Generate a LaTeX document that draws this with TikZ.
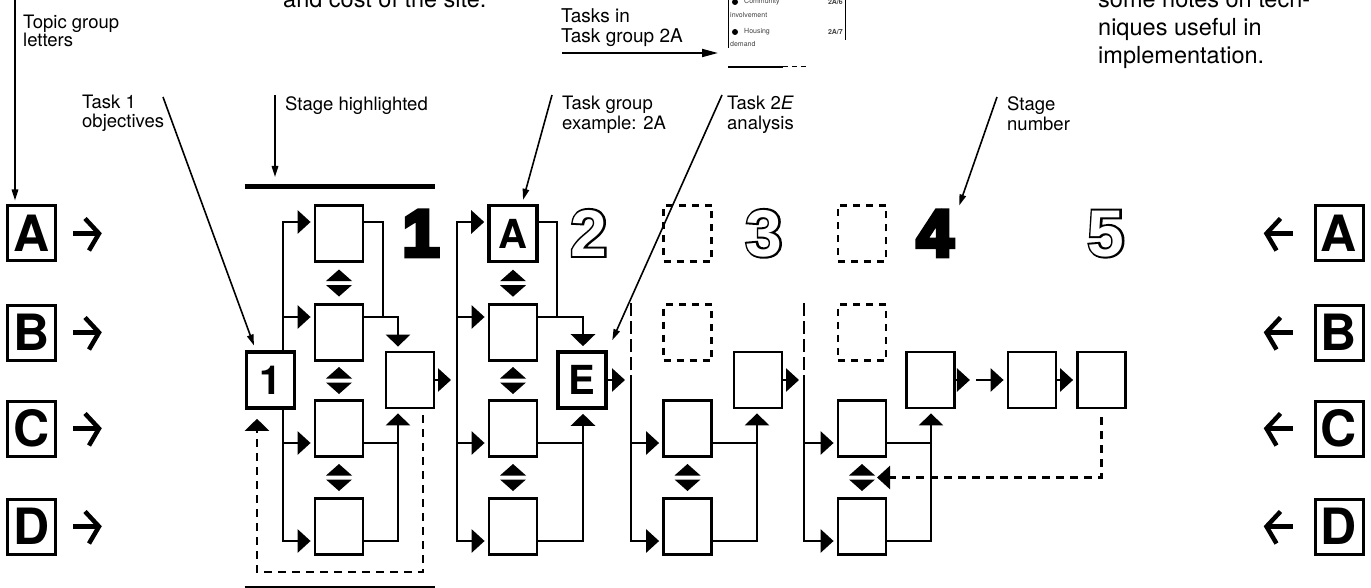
\documentclass[tikz,border=0pt]{standalone}
\usepackage{fontspec}
\setmainfont{TeX Gyre Heros}
\newfontface\digheavy{Liberation Sans Bold}[FakeBold=7]
\newfontface\dighalo{Liberation Sans Bold}[FakeBold=6]
\newfontface\digplain{Liberation Sans Bold}
\usetikzlibrary{arrows.meta,calc}
\newcommand\hollowdigit[1]{\leavevmode\rlap{\dighalo #1}\textcolor{white}{\digplain #1}}
\newcommand\labf[1]{\fontsize{18.5}{#1}\selectfont\lineskiplimit-30pt}
\tikzset{
  dbl/.pic={\fill (-13,-2) -- (13,-2) -- (0,-13.5) -- cycle;
            \fill (-13,2) -- (13,2) -- (0,13.5) -- cycle;}
}
\begin{document}
\begin{tikzpicture}[x=1pt,y=-1pt,
  box/.style={draw,line width=2.8pt,minimum width=48pt,minimum height=56pt,inner sep=0pt,fill=white},
  bbox/.style={box,line width=3.6pt,font=\bfseries\fontsize{40}{40}\selectfont},
  dbox/.style={box,dash pattern=on 7pt off 6pt},
  topic/.style={draw,line width=3pt,minimum width=48pt,minimum height=55pt,inner sep=0pt,font=\bfseries\fontsize{50}{50}\selectfont},
  ln/.style={line width=2.8pt},
  tarr/.style={line width=4.5pt,line cap=butt,line join=miter},
  arr/.style={-{Triangle[width=23pt,length=13pt]},shorten >=3pt},
  varr/.style={-{Triangle[width=24pt,length=12pt]},shorten >=4pt},
  dsh/.style={line width=2.6pt,dash pattern=on 8pt off 6pt},
  dbus/.style={line width=2.8pt,dash pattern=on 13pt off 5pt},
  lab/.style={inner sep=0pt,anchor=north west,align=left,font=\labf{20}},
  ptr/.style={line width=1.6pt,-{Triangle[width=6.5pt,length=11pt]}},
  big/.style={inner sep=0pt,anchor=base,font=\fontsize{66}{66}\selectfont},
  doc/.style={inner sep=0pt,text=black!75,font=\fontsize{7}{8}\selectfont}
]
\fill[white] (0,0) rectangle (1371,588);
\useasboundingbox (0,0) rectangle (1371,588);

% row levels
\coordinate (yA) at (0,222);
\coordinate (yB) at (0,317);
\coordinate (yC) at (0,443);
\coordinate (yD) at (0,541);
\coordinate (yT) at (0,303);
\coordinate (yL) at (0,572);
\coordinate (yBar) at (0,589);

% topic group boxes with arrows
\foreach \n/\y in {A/233.5,B/332.5,C/428.5,D/526.5}{
  \node[topic] (L\n) at (31.5,\y) {\n};
  \node[topic] (R\n) at (1339,\y) {\n};
  \draw[tarr] ($(L\n.east)+(16,0)$) -- ++(26,0);
  \draw[tarr] ($(L\n.east)+(28,-15)$) -- ++(14,15) -- ++(-10,17);
  \draw[tarr] ($(R\n.west)+(-21,0)$) -- ++(-26,0);
  \draw[tarr] ($(R\n.west)+(-33,-15)$) -- ++(-14,15) -- ++(10,17);
}

% stage 1
\node[box] (s1a) at (339,233.5) {};
\node[box] (s1b) at (339,332.5) {};
\node[box] (s1c) at (339,428.5) {};
\node[box] (s1d) at (339,526.5) {};
\node[bbox] (t1) at (270.5,380) {1};
\node[box] (s1r) at (410,380) {};
% stage 2
\node[bbox] (s2a) at (513,233.5) {A};
\node[box] (s2b) at (513,332.5) {};
\node[box] (s2c) at (513,428.5) {};
\node[box] (s2d) at (513,526.5) {};
\node[bbox] (s2e) at (582,380) {E};
% stage 3
\node[dbox] (s3a) at (687.5,233.5) {};
\node[dbox] (s3b) at (687.5,332.5) {};
\node[box] (s3c) at (687.5,428.5) {};
\node[box] (s3d) at (687.5,526.5) {};
\node[box] (s3r) at (758,380) {};
% stage 4
\node[dbox] (s4a) at (862,233.5) {};
\node[dbox] (s4b) at (862,332.5) {};
\node[box] (s4c) at (862,428.5) {};
\node[box] (s4d) at (862,526.5) {};
\node[box] (s4r) at (930.5,380) {};
% stage 5
\node[box] (s5a) at (1032,380) {};
\node[box] (s5b) at (1101.5,380) {};

% stage numbers
\node[big] (n1) at (421,256) {\digheavy 1};
\node[big] (n2) at (589,256) {\hollowdigit{2}};
\node[big] (n3) at (764,256) {\hollowdigit{3}};
\node[big] (n4) at (935,256) {\digheavy 4};
\node[big] (n5) at (1106,256) {\hollowdigit{5}};

% double arrows
\pic at ($(s1a.south)!.5!(s1b.north)$) {dbl};
\pic at ($(s1b.south)!.5!(s1c.north)$) {dbl};
\pic at ($(s1c.south)!.5!(s1d.north)$) {dbl};
\pic at ($(s2a.south)!.5!(s2b.north)$) {dbl};
\pic at ($(s2b.south)!.5!(s2c.north)$) {dbl};
\pic at ($(s2c.south)!.5!(s2d.north)$) {dbl};
\pic at ($(s3c.south)!.5!(s3d.north)$) {dbl};
\coordinate (d4) at ($(s4c.south)!.5!(s4d.north)$);
\pic at (d4) {dbl};

% bus positions
\coordinate (B1) at (283,380);
\coordinate (B2) at (457,380);
\coordinate (B3) at (631,380);
\coordinate (B4) at (804,380);
\coordinate (J1a) at (383,0);
\coordinate (J1b) at (398,0);
\coordinate (J2a) at (557,0);
\coordinate (J2b) at (583,0);
\coordinate (J3) at (757,0);
\coordinate (J4) at (931,0);

% stage 1 connectors
\draw[ln,arr] (t1.north -| B1) |- (s1a.west |- yA);
\draw[ln,arr] (B1 |- yB) -- (s1b.west |- yB);
\draw[ln,arr] (t1.south -| B1) |- (s1d.west |- yD);
\draw[ln,arr] (B1 |- yC) -- (s1c.west |- yC);
\draw[ln] (s1a.east |- yA) -| (J1a |- yB);
\draw[ln,varr] (s1b.east |- yB) -| (s1r.north -| J1b);
\draw[ln,varr] (s1c.east |- yC) -| (s1r.south -| J1b);
\draw[ln] (s1d.east |- yD) -| (J1b |- yC);
\draw[ln,arr,shorten >=6pt] (s1r.east) -- (B2);
% stage 1 feedback loop
\coordinate (L1r) at (423,0);
\coordinate (L1l) at (257,0);
\draw[dsh,varr,shorten >=9pt] ($(s1r.south -| L1r)+(0,6)$) |- (L1l |- yL) -- (t1.south -| L1l);

% stage 2 connectors
\draw[ln,arr] (B2) |- (s2a.west |- yA);
\draw[ln,arr] (B2) |- (s2d.west |- yD);
\draw[ln,arr] (B2 |- yB) -- (s2b.west |- yB);
\draw[ln,arr] (B2 |- yC) -- (s2c.west |- yC);
\draw[ln] (s2a.east |- yA) -| (J2a |- yB);
\draw[ln,varr] (s2b.east |- yB) -| (s2e.north -| J2b);
\draw[ln,varr] (s2c.east |- yC) -| (s2e.south -| J2b);
\draw[ln] (s2d.east |- yD) -| (J2b |- yC);
\draw[ln,arr,shorten >=6pt] (s2e.east) -- (B3);

% stage 3 connectors
\draw[dbus] (B3 |- yT) -- (B3);
\draw[ln,arr] (B3) |- (s3d.west |- yD);
\draw[ln,arr] (B3 |- yC) -- (s3c.west |- yC);
\draw[ln,varr] (s3c.east |- yC) -| (s3r.south -| J3);
\draw[ln] (s3d.east |- yD) -| (J3 |- yC);
\draw[ln,arr,shorten >=5pt] (s3r.east) -- (B4);

% stage 4 connectors
\draw[dbus] (B4 |- yT) -- (B4);
\draw[ln,arr] (B4) |- (s4d.west |- yD);
\draw[ln,arr] (B4 |- yC) -- (s4c.west |- yC);
\draw[ln,varr] (s4c.east |- yC) -| (s4r.south -| J4);
\draw[ln] (s4d.east |- yD) -| (J4 |- yC);
\coordinate (m45) at ($(s4r.east)+(17,0)$);
\coordinate (m45b) at ($(s4r.east)+(20,0)$);
\draw[ln,arr] (s4r.east) -- (m45);
\draw[ln,arr] (m45b) -- (s5a.west);
\draw[ln,arr] (s5a.east) -- (s5b.west);
% feedback from stage 5
\coordinate (d4r) at ($(d4)+(15,0)$);
\draw[dsh,arr,shorten >=0pt] ($(s5b.south)+(0,8)$) |- (d4r);

% stage highlighted bars
\coordinate (hlA) at (275,187);
\draw[line width=5pt] (t1.west |- hlA) -- (s1r.east |- hlA);
\draw[line width=6pt] (t1.west |- yBar) -- (s1r.east |- yBar);

% labels and pointers
\coordinate (pTopic) at (15,-3);
\node[lab,font=\labf{17.5}] (lTopic) at (23,15) {Topic group\\letters};
\draw[ptr,shorten >=4pt] (pTopic) -- (LA.north -| pTopic);

\coordinate (pT1) at (163,97);
\node[lab,font=\labf{19}] (lT1) at (82,95) {Task 1\\objectives};
\draw[ptr,shorten >=5pt] (pT1) -- ($(t1.north west)+(11,0)$);

\coordinate (pHL) at (275,95);
\node[lab] (lHL) at (285,96) {Stage highlighted};
\draw[ptr,shorten >=10pt] (pHL) -- (hlA);

\coordinate (pTG) at (552,95);
\node[lab] (lTG) at (562,96) {Task group\\example: 2A};
\draw[ptr,shorten >=4pt] (pTG) -- ($(s2a.north)+(9,0)$);

\coordinate (p2E) at (722,95);
\node[lab] (l2E) at (727,96) {Task 2\textit{E}\\analysis};
\draw[ptr,shorten >=11pt] (p2E) -- (s2e.north east);

\coordinate (pSN) at (997,97);
\node[lab] (lSN) at (1007,96) {Stage\\number};
\draw[ptr,shorten >=2pt] (pSN) -- ($(n4.north east)+(5,-3)$);

% top texts
\node[inner sep=0pt,anchor=base west,font=\fontsize{23.5}{28}\selectfont] (tTop) at (283,7.5) {and cost of the site.};
\node[inner sep=0pt,anchor=north west,align=left,font=\fontsize{23.5}{28}\selectfont\lineskiplimit-30pt] (tNotes) at (1098,-9.5) {some notes on tech-\\niques useful in\\implementation.};
\node[lab,font=\fontsize{19}{20}\selectfont\lineskiplimit-30pt] (lTasks) at (561,8) {Tasks in\\Task group 2A};
\coordinate (pTasks) at (562,53);
\coordinate (docL) at (728,53);
\draw[line width=1.8pt,-{Triangle[width=8pt,length=16pt]},shorten >=10pt] (pTasks) -- (docL);

% miniature page
\draw[line width=1pt] (728,-2) -- (728,48);
\draw[line width=1pt] (845,-2) -- (845,40);
\draw[line width=1.3pt] (728,67) -- (783,67);
\draw[line width=1pt,dash pattern=on 5pt off 4pt] (783,67) -- (806,67);
\fill (735,2) circle (3);
\fill (735,32) circle (3);
\node[doc,anchor=west] (dc1) at (744,2) {Community};
\node[doc,anchor=west] (dc2) at (730,15) {involvement};
\node[doc,anchor=west] (dc3) at (744,32) {Housing};
\node[doc,anchor=west] (dc4) at (730,44) {demand};
\node[doc,anchor=east,font=\bfseries\fontsize{7}{8}\selectfont] (dc5) at (843,2) {2A/6};
\node[doc,anchor=east,font=\bfseries\fontsize{7}{8}\selectfont] (dc6) at (843,32) {2A/7};
\end{tikzpicture}
\end{document}
